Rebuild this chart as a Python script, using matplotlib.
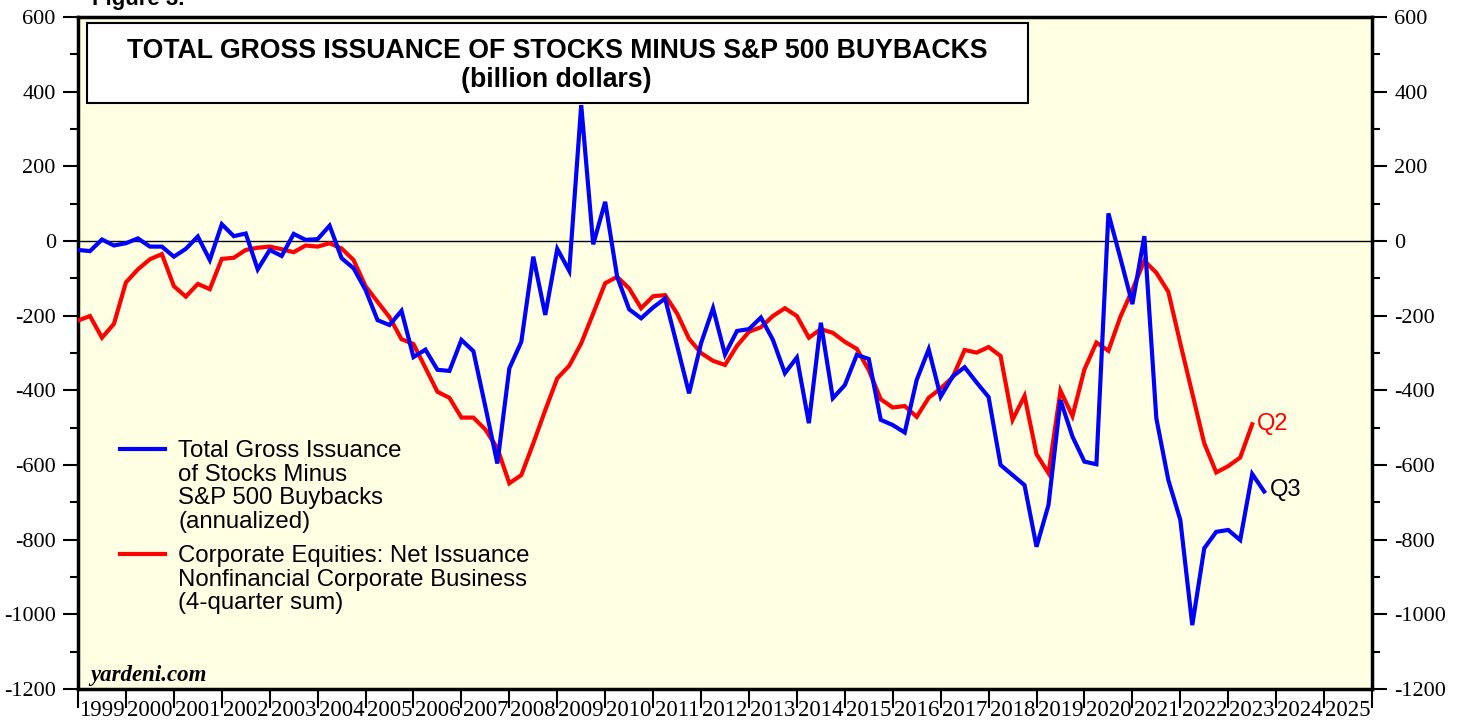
import numpy as np
import matplotlib
matplotlib.use("Agg")
import matplotlib.pyplot as plt
from matplotlib.patches import Rectangle
from matplotlib.ticker import MultipleLocator, FixedLocator, NullFormatter, FixedFormatter

plt.rcParams["axes.unicode_minus"] = False

# Quarterly data, plotted at quarter-end (first point = 1998Q4 -> 1999.0)
blue_vals = [-24, -27, 4, -12, -6, 7, -15, -15, -42, -21,
             12, -51, 45, 13, 20, -76, -24, -40, 19, 3,
             5, 41, -46, -73, -131, -212, -225, -187, -311, -291,
             -345, -348, -265, -295, -444, -596, -341, -270, -42, -198,
             -21, -80, 364, -9, 105, -96, -183, -207, -178, -154,
             -280, -408, -274, -180, -304, -241, -236, -205, -265, -354,
             -312, -488, -219, -421, -386, -305, -316, -479, -493, -513,
             -372, -290, -417, -363, -338, -379, -418, -600, -627, -654,
             -819, -707, -426, -524, -591, -598, 74, -46, -169, 13,
             -475, -640, -747, -1029, -823, -779, -774, -801, -624, -671]

red_vals = [-213, -201, -259, -222, -111, -76, -49, -35, -121, -149,
            -115, -129, -48, -45, -24, -18, -15, -22, -30, -12,
            -15, -6, -20, -51, -121, -163, -204, -263, -276, -340,
            -404, -420, -473, -473, -505, -555, -649, -627, -542, -453,
            -368, -334, -274, -194, -113, -96, -127, -180, -148, -145,
            -194, -262, -300, -321, -332, -281, -243, -231, -201, -180,
            -201, -259, -236, -246, -270, -289, -346, -424, -446, -442,
            -471, -420, -395, -365, -292, -299, -284, -308, -479, -415,
            -571, -622, -401, -469, -344, -272, -294, -203, -131, -53,
            -85, -136, -274, -408, -542, -620, -603, -580, -491]

start_year = 1999.0
years = list(range(1999, 2026))
year_labels = [str(y) for y in years]

blue_label = "Total Gross Issuance\nof Stocks Minus\nS&P 500 Buybacks\n(annualized)"
red_label = "Corporate Equities: Net Issuance\nNonfinancial Corporate Business\n(4-quarter sum)"
title1 = "TOTAL GROSS ISSUANCE OF STOCKS MINUS S&P 500 BUYBACKS"
title2 = "(billion dollars)"

xb = start_year + 0.25 * np.arange(len(blue_vals))
xr = start_year + 0.25 * np.arange(len(red_vals))

BLUE = "#0000FF"
RED = "#FF0000"
BG = "#FFFFE3"

fig = plt.figure(figsize=(14.64, 7.21), dpi=100)
ax = fig.add_axes([78/1464, 1 - 689/721, (1372-78)/1464, (689-17)/721])
ax.set_facecolor(BG)

ax.set_xlim(1999, 2026)
ax.set_ylim(-1200, 600)

ax.axhline(0, color="black", lw=1.0, zorder=1)
ax.plot(xr, red_vals, color=RED, lw=3.0, zorder=3, solid_joinstyle="miter")
ax.plot(xb, blue_vals, color=BLUE, lw=3.0, zorder=4, solid_joinstyle="miter")

for s in ax.spines.values():
    s.set_linewidth(2.5)
    s.set_color("black")

serif = "Liberation Serif"
sans = "Liberation Sans"

# y ticks both sides
ax.yaxis.set_major_locator(MultipleLocator(200))
ax.yaxis.set_minor_locator(MultipleLocator(100))
ax.tick_params(axis="y", which="major", direction="out", length=11, width=1.5,
               left=True, right=True, labelleft=True, labelright=True, pad=5)
ax.tick_params(axis="y", which="minor", direction="out", length=6, width=1.5,
               left=True, right=True)
for lab in ax.get_yticklabels():
    lab.set_fontfamily(serif)
    lab.set_fontsize(16)

# x ticks: boundaries (major) + centered labels (minor)
ax.xaxis.set_major_locator(FixedLocator(list(range(1999, 2027))))
ax.xaxis.set_major_formatter(NullFormatter())
ax.xaxis.set_minor_locator(FixedLocator([y + 0.5 for y in years]))
ax.xaxis.set_minor_formatter(FixedFormatter(year_labels))
ax.tick_params(axis="x", which="major", direction="out", length=14, width=1.5, bottom=True, top=False)
ax.tick_params(axis="x", which="minor", length=0, pad=8)
for lab in ax.xaxis.get_minorticklabels():
    lab.set_fontfamily(serif)
    lab.set_fontsize(16.5)

# Title box
ax.add_patch(Rectangle((0.007, 0.872), 0.727, 0.119, transform=ax.transAxes,
                       facecolor="white", edgecolor="black", lw=1.5, zorder=5))
ax.text(0.370, 0.949, title1, transform=ax.transAxes, ha="center", va="center",
        fontsize=19.2, fontweight="bold", family=sans, zorder=6)
ax.text(0.370, 0.906, title2, transform=ax.transAxes, ha="center", va="center",
        fontsize=19.2, fontweight="bold", family=sans, zorder=6)

# Legend (manual)
def px2ax(x, y):
    return ((x - 78) / 1294, (689 - y) / 672)

for (ly, lab, col) in [(449, blue_label, BLUE), (554, red_label, RED)]:
    x0, y0 = px2ax(120, ly)
    x1, _ = px2ax(165, ly)
    ax.plot([x0, x1], [y0, y0], transform=ax.transAxes, color=col, lw=3.0, zorder=6)
    tx, ty = px2ax(178, ly - 9)
    ax.text(tx, ty, lab, transform=ax.transAxes, ha="left", va="top",
            fontsize=17.3, family=sans, linespacing=1.1, zorder=6)

# End labels
ax.text(xr[-1] + 0.1, red_vals[-1] + 2, "Q2", color=RED, fontsize=17, family=sans,
        ha="left", va="center", zorder=6)
ax.text(xb[-1] + 0.12, blue_vals[-1] + 5, "Q3", color="black", fontsize=17, family=sans,
        ha="left", va="center", zorder=6)

# Watermark
wx, wy = px2ax(90, 676)
ax.text(wx, wy, "yardeni.com", transform=ax.transAxes, fontsize=16.5, family=serif,
        fontweight="bold", fontstyle="italic", ha="left", va="center", zorder=6)

fig.text(92/1464, 1 - 5/721, "Figure 3.", fontsize=16, fontweight="bold", family=sans,
         ha="left", va="baseline")

fig.savefig("out.png", dpi=100, facecolor="white")
